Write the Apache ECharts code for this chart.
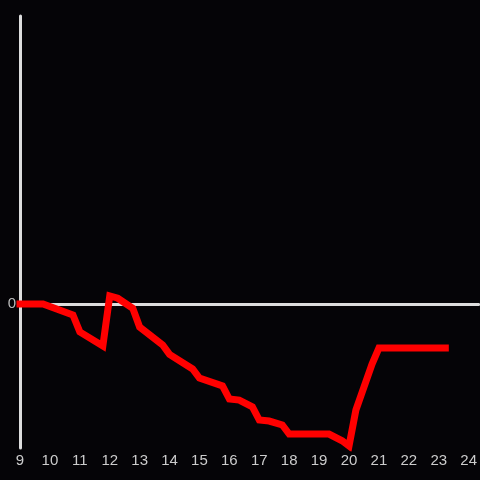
<!DOCTYPE html>
<html>
<head>
<meta charset="utf-8">
<script src="https://cdn.jsdelivr.net/npm/echarts@6/dist/echarts.min.js"></script>
<style>
html,body{margin:0;padding:0;background:#050407;}
#chart{width:480px;height:480px;}
</style>
</head>
<body>
<div id="chart"></div>
<script>
// x positions (hours) and values
var xValues = [9.0, 9.77, 10.77, 11.0, 11.77, 12.0, 12.27, 12.77, 13.0, 13.77, 14.0, 14.77, 15.0, 15.77, 16.0, 16.33, 16.77, 17.0, 17.33, 17.77, 18.0, 19.33, 19.77, 20.0, 20.23, 20.77, 21.0, 23.22];
var yValues = [0, 0, -0.76, -1.94, -2.92, 0.56, 0.4, -0.3, -1.6, -2.85, -3.5, -4.51, -5.14, -5.69, -6.6, -6.67, -7.15, -8.06, -8.13, -8.4, -9.03, -9.03, -9.5, -9.86, -7.36, -4.17, -3.06, -3.06];
var xTicks = [9, 10, 11, 12, 13, 14, 15, 16, 17, 18, 19, 20, 21, 22, 23, 24];

var data = xValues.map(function (x, i) { return [x, yValues[i]]; });

var chart = echarts.init(document.getElementById('chart'), null, {renderer: 'canvas'});
chart.setOption({
  backgroundColor: '#050407',
  animation: false,
  grid: {left: 20, right: 0, top: 16, bottom: 32},
  xAxis: [{
    type: 'value',
    min: 9,
    max: 9 + 460 / 30,
    interval: 1,
    axisLine: {show: false, onZero: false},
    axisTick: {show: false},
    splitLine: {show: false},
    axisLabel: {
      color: '#cccccc', fontSize: 15, margin: 5,
      fontFamily: 'Liberation Sans, Arial, sans-serif',
      showMaxLabel: false,
      formatter: function (v) { return xTicks.indexOf(Math.round(v)) >= 0 && Math.abs(v - Math.round(v)) < 1e-6 ? String(Math.round(v)) : ''; }
    }
  }, {
    type: 'value',
    min: 9,
    max: 9 + 460 / 30,
    axisLine: {show: true, onZero: true, lineStyle: {color: '#dddddd', width: 3}},
    axisTick: {show: false},
    axisLabel: {show: false},
    splitLine: {show: false}
  }],
  yAxis: {
    type: 'value',
    min: -10,
    max: 20,
    interval: 10,
    axisLine: {show: true, lineStyle: {color: '#dddddd', width: 3}},
    axisTick: {show: false},
    splitLine: {show: false},
    axisLabel: {
      color: '#bbbbbb', fontSize: 15, margin: 4,
      fontFamily: 'Liberation Sans, Arial, sans-serif',
      formatter: function (v) { return v === 0 ? '0' : ''; }
    }
  },
  series: [{
    type: 'line',
    xAxisIndex: 0,
    data: data,
    showSymbol: false,
    symbol: 'none',
    lineStyle: {color: '#ff0000', width: 7, cap: 'square', join: 'miter'},
    z: 5
  }]
});
</script>
</body>
</html>
